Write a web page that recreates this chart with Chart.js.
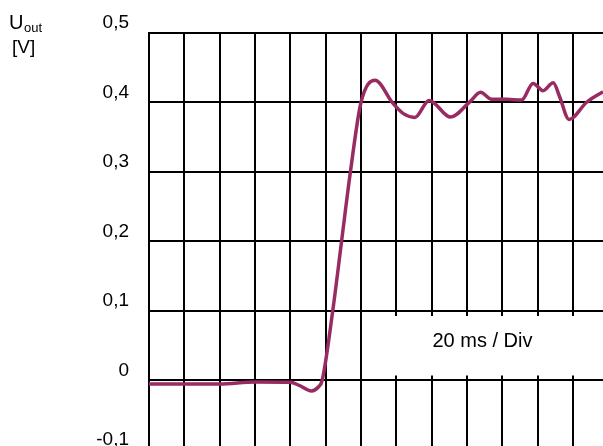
<!DOCTYPE html>
<html>
<head>
<meta charset="utf-8">
<script src="https://cdn.jsdelivr.net/npm/chart.js@4/dist/chart.umd.min.js"></script>
<style>
  html, body { margin: 0; padding: 0; background: #fff; overflow: hidden; }
  #wrap { width: 603px; height: 450px; position: relative; }
</style>
</head>
<body>
<div id="wrap"><canvas id="stepChart"></canvas></div>
<script>
// time in ms (20 ms per division), output voltage in V
const times = [0, 40, 60, 80, 85, 92, 96, 98, 104, 109, 114, 120, 128, 138, 144, 150.5, 158.6, 170.7, 181.6, 187.7, 193.9, 202.4, 210.9, 217.4, 223.1, 228.8, 232.5, 237.8, 247.6, 257];
const volts = [-0.005, -0.005, -0.002, -0.0025, -0.007, -0.015, -0.009, 0.0, 0.1, 0.2, 0.3, 0.4, 0.432, 0.399, 0.384, 0.3785, 0.403, 0.379, 0.401, 0.4146, 0.4045, 0.4045, 0.4035, 0.4275, 0.417, 0.4285, 0.408, 0.3756, 0.4, 0.4155];

const yTickValues = [-0.1, 0, 0.1, 0.2, 0.3, 0.4, 0.5];
const yTickLabels = ["-0,1", "0", "0,1", "0,2", "0,3", "0,4", "0,5"];
const xDivisions = [0, 20, 40, 60, 80, 100, 120, 140, 160, 180, 200, 220, 240];
const divLabel = "20 ms / Div";

const FONT = "'Liberation Sans', Arial, sans-serif";

const annotations = {
    id: "annotations",
    beforeDatasetsDraw(chart) {
        const { ctx, scales } = chart;
        const x = scales.x, y = scales.y;
        // white label box that hides the grid between 0 and 0,1
        const left = x.getPixelForValue(120) + 1;
        const right = chart.width;
        const top = y.getPixelForValue(0.1) + 5;
        const bottom = y.getPixelForValue(0) - 5;
        ctx.save();
        ctx.fillStyle = "#fff";
        ctx.fillRect(left, top, right - left, bottom - top);
        ctx.fillStyle = "#000";
        ctx.font = "20px " + FONT;
        ctx.textAlign = "center";
        ctx.textBaseline = "alphabetic";
        ctx.fillText(divLabel, (left + right) / 2, y.getPixelForValue(0) - 34);

        // axis name
        ctx.textAlign = "left";
        ctx.font = "20px " + FONT;
        ctx.fillText("U", 9, 29);
        ctx.font = "13px " + FONT;
        ctx.fillText("out", 24, 31.5);
        ctx.font = "19px " + FONT;
        ctx.fillText("[V]", 12, 53);
        ctx.restore();
    }
};

new Chart(document.getElementById("stepChart"), {
    type: "line",
    data: {
        datasets: [{
            data: times.map((t, i) => ({ x: t, y: volts[i] })),
            borderColor: "#992b63",
            borderWidth: 3.5,
            pointRadius: 0,
            fill: false,
            cubicInterpolationMode: "monotone"
        }]
    },
    options: {
        responsive: true,
        maintainAspectRatio: false,
        animation: false,
        layout: { padding: { top: 33, right: 0, bottom: 0, left: 0 } },
        plugins: {
            legend: { display: false },
            tooltip: { enabled: false }
        },
        scales: {
            x: {
                type: "linear",
                min: 0,
                max: 257,
                afterBuildTicks: (s) => { s.ticks = xDivisions.map(v => ({ value: v })); },
                afterFit: (s) => { s.height = 0; },
                ticks: { display: false },
                grid: { color: "#000", lineWidth: 2, drawTicks: false },
                border: { display: false }
            },
            y: {
                min: -0.1,
                max: 0.5,
                afterBuildTicks: (s) => { s.ticks = yTickValues.map(v => ({ value: v })); },
                afterFit: (s) => { s.width = 149; s.paddingBottom = 0; s.paddingTop = 0; },
                ticks: {
                    callback: (v, i) => yTickLabels[i],
                    color: "#000",
                    font: { family: FONT, size: 19 },
                    padding: 20,
                    labelOffset: -10
                },
                grid: { color: "#000", lineWidth: 2, drawTicks: false },
                border: { color: "#000", width: 2 }
            }
        }
    },
    plugins: [annotations]
});
</script>
</body>
</html>
